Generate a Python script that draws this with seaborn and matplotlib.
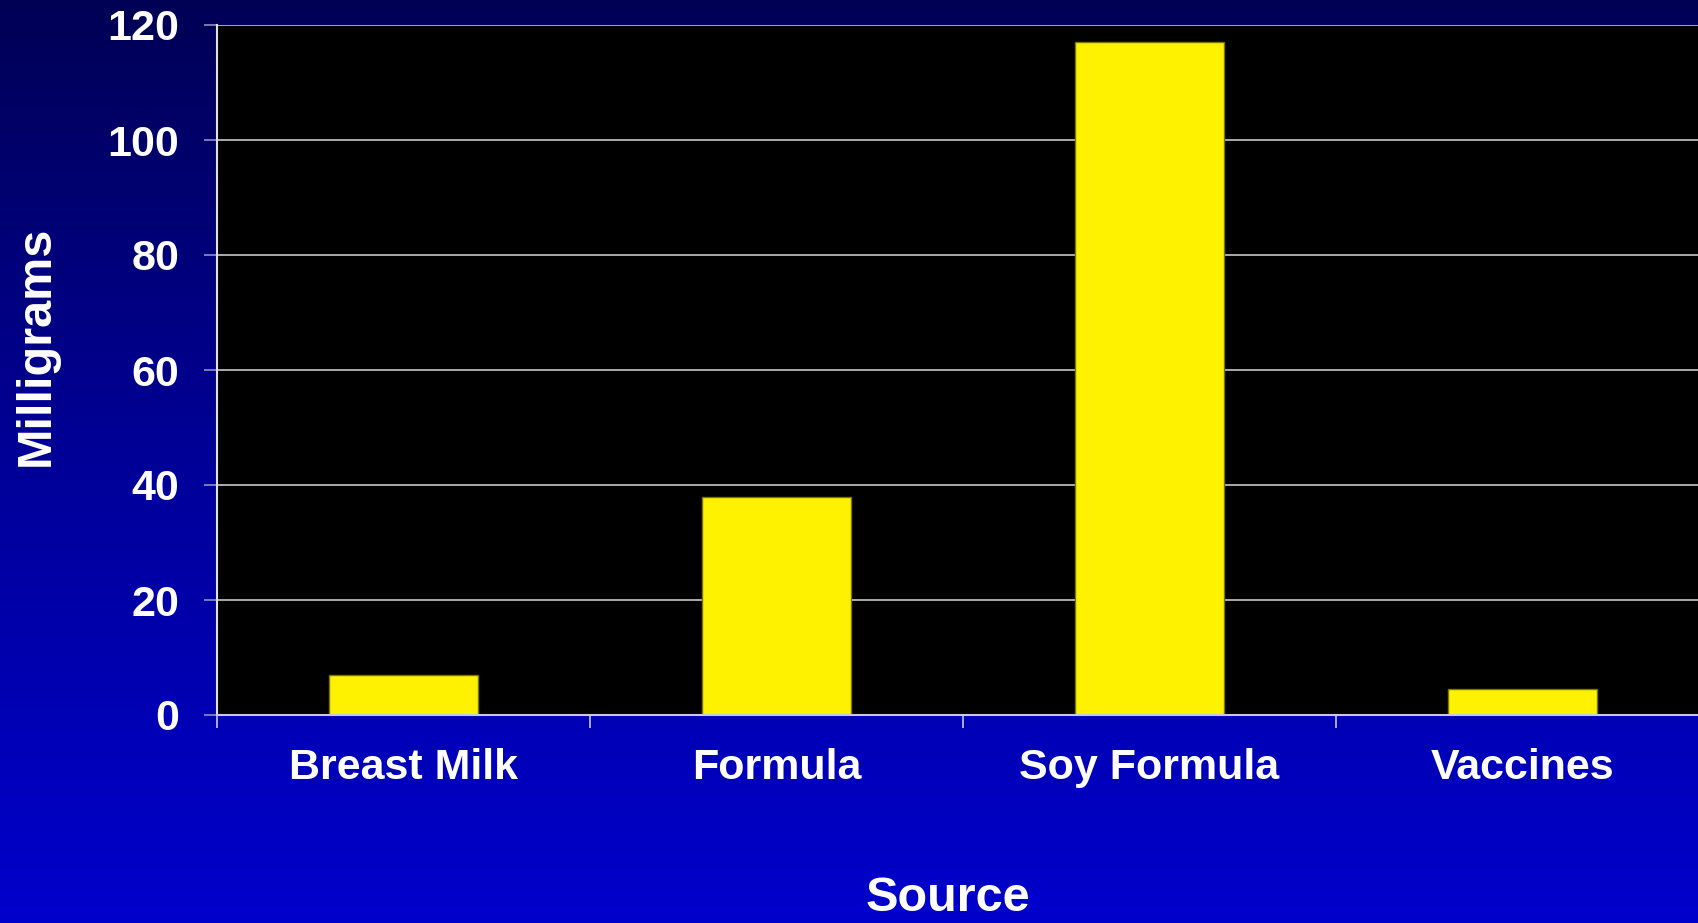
import numpy as np
import pandas as pd
import matplotlib
matplotlib.use("Agg")
import matplotlib.pyplot as plt
import seaborn as sns
from matplotlib.colors import LinearSegmentedColormap

categories = ["Breast Milk", "Formula", "Soy Formula", "Vaccines"]
values = [7, 38, 117, 4.5]
yticks = [0, 20, 40, 60, 80, 100, 120]

sns.set_theme(style="dark")
plt.rcParams['font.family'] = ['Liberation Sans', 'DejaVu Sans']
plt.rcParams['font.weight'] = 'bold'

W, H = 1699, 923
fig = plt.figure(figsize=(W / 100, H / 100), dpi=100)

# gradient background
bg = fig.add_axes([0, 0, 1, 1], zorder=-10)
cmap = LinearSegmentedColormap.from_list("bg", ["#000055", "#000098", "#0000cc"])
grad = np.linspace(0, 1, 256).reshape(-1, 1)
bg.imshow(grad, aspect="auto", cmap=cmap, extent=[0, 1, 0, 1], origin="upper")
bg.set_axis_off()

left, right = 217, 217 + 4 * 373
top, bottom = 25, 715
ax = fig.add_axes([left / W, 1 - bottom / H, (right - left) / W, (bottom - top) / H])
ax.set_facecolor("black")

df = pd.DataFrame({"Source": categories, "Milligrams": values})
sns.barplot(data=df, x="Source", y="Milligrams", ax=ax, color="#fff200",
            saturation=1, width=0.4, edgecolor="#7a7400", linewidth=1)

ax.set_ylim(0, 120)
ax.set_xlim(-0.5, 3.5)
ax.set_yticks(yticks)
ax.yaxis.grid(True, color="#c8c8c8", linewidth=1.2)
ax.xaxis.grid(False)
ax.set_axisbelow(True)

for s in ["top", "right"]:
    ax.spines[s].set_visible(False)
ax.spines["left"].set_color("#e0e0e0")
ax.spines["left"].set_linewidth(1.5)
ax.spines["bottom"].set_color("#c8c8e0")
ax.spines["bottom"].set_linewidth(1.5)

ax.set_xticks([0, 1, 2, 3])
ax.set_xticklabels(categories)
ax.set_xticks([-0.5, 0.5, 1.5, 2.5, 3.5], minor=True)
ax.tick_params(axis="x", which="major", length=0, pad=23.5, labelsize=31, labelcolor="white")
ax.tick_params(axis="x", which="minor", bottom=True, length=9.5, width=1.2, color="#c8c8e0")
ax.tick_params(axis="y", which="major", left=True, length=9.5, width=1.2, color="#9090c0",
               pad=17.5, labelsize=31, labelcolor="white")
for lbl in ax.get_xticklabels() + ax.get_yticklabels():
    lbl.set_fontweight("bold")

ax.set_xlabel("")
ax.set_ylabel("")
fig.text(36 / W, 1 - 346 / H, "Milligrams", rotation=90, ha="center", va="center",
         fontsize=35, fontweight="bold", color="white")
fig.text(948 / W, 1 - 911 / H, "Source", ha="center", va="baseline",
         fontsize=35, fontweight="bold", color="white")

fig.savefig("out.png", dpi=100)
